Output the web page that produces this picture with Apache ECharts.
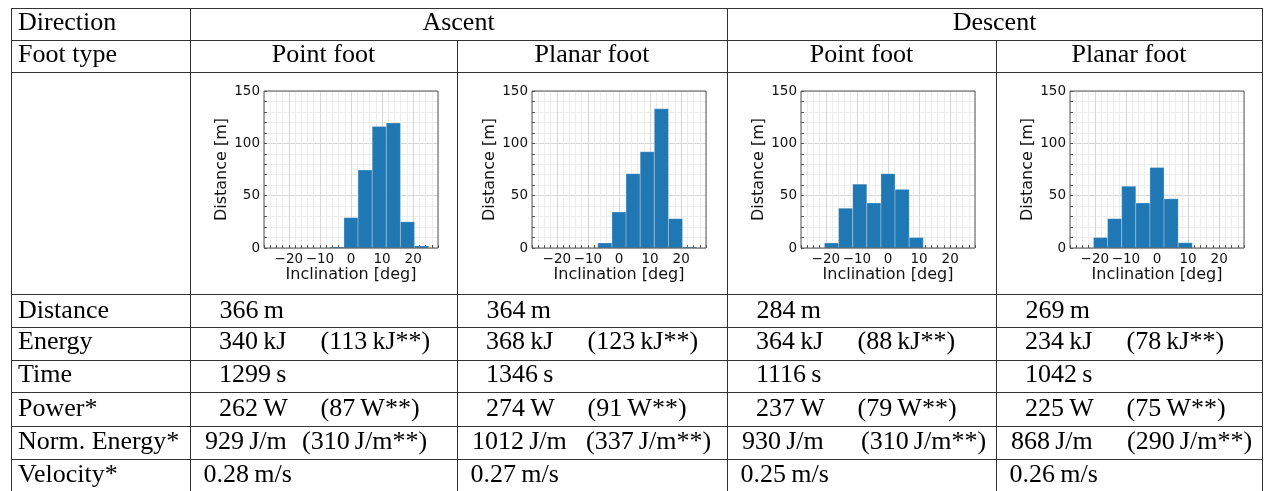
<!DOCTYPE html>
<html>
<head>
<meta charset="utf-8">
<script src="https://cdn.jsdelivr.net/npm/echarts@6/dist/echarts.min.js"></script>
<style>
  html, body { margin: 0; background: #fff; }
  #chart { width: 1264px; height: 491px; }
</style>
</head>
<body>
<div id="chart"></div>
<script>
// histogram bins, inclination [deg]
const binEdges = [-25, -20.45, -15.91, -11.36, -6.82, -2.27, 2.27, 6.82, 11.36, 15.91, 20.45, 25]
// distance walked per bin [m]
const ascentPoint = [0, 0, 0, 0, 1, 29, 74.5, 116, 119.5, 25, 2]
const ascentPlanar = [0, 0, 0, 0, 4.8, 34.4, 71, 92, 133, 28, 1]
const descentPoint = [0, 4.8, 38, 61, 43, 71, 56, 10, 0, 0, 0]
const descentPlanar = [0, 10, 28, 59, 43, 77, 47, 5, 0, 0, 0]
const xTicks = [-20, -10, 0, 10, 20]
const yTicks = [0, 50, 100, 150]

// table
const directions = ['Ascent', 'Descent']
const footTypes = ['Point foot', 'Planar foot', 'Point foot', 'Planar foot']
const rowNames = ['Distance', 'Energy', 'Time', 'Power*', 'Norm. Energy*', 'Velocity*']
const distance = [366, 364, 284, 269]
const energy = [340, 368, 364, 234]
const energyStar = [113, 123, 88, 78]
const time = [1299, 1346, 1116, 1042]
const power = [262, 274, 237, 225]
const powerStar = [87, 91, 79, 75]
const normEnergy = [929, 1012, 930, 868]
const normEnergyStar = [310, 337, 310, 290]
const velocity = [0.28, 0.27, 0.25, 0.26]

const hists = [ascentPoint, ascentPlanar, descentPoint, descentPlanar]

// layout
const colX = [11, 190, 457, 727, 996, 1262]
const rowY = [8, 40, 72, 294, 327, 360, 392, 426, 459, 491]
const baseY = [31.5, 63.5, 0, 319.5, 350.5, 384, 417.5, 450.5, 483.5]
const gridLeft = [264, 532, 801, 1070]
const lineColor = '#333'
const TS = 26 // table font size
const sp = '\u2009'

const elements = []
function hline (y, x1, x2) {
  elements.push({ type: 'line', silent: true, shape: { x1: x1, y1: y + 0.5, x2: x2 + 1, y2: y + 0.5 }, style: { stroke: lineColor, lineWidth: 1 } })
}
function vline (x, y1, y2) {
  elements.push({ type: 'line', silent: true, shape: { x1: x + 0.5, y1: y1, x2: x + 0.5, y2: y2 }, style: { stroke: lineColor, lineWidth: 1 } })
}
function txt (s, x, base, align) {
  elements.push({
    type: 'text', silent: true, x: x, y: base - 8.8,
    style: { text: s, fontSize: TS, fontFamily: 'Liberation Serif', fill: '#000', align: align || 'left', verticalAlign: 'middle' }
  })
}

// grid lines of the table
rowY.slice(0, 9).forEach(y => hline(y, colX[0], colX[5]))
vline(colX[0], rowY[0], rowY[9])
vline(colX[1], rowY[0], rowY[9])
vline(colX[3], rowY[0], rowY[9])
vline(colX[5], rowY[0], rowY[9])
vline(colX[2], rowY[1], rowY[9])
vline(colX[4], rowY[1], rowY[9])

// header
txt('Direction', 18, baseY[0])
txt(directions[0], (colX[1] + colX[3]) / 2, baseY[0], 'center')
txt(directions[1], (colX[3] + colX[5]) / 2, baseY[0], 'center')
txt('Foot type', 18, baseY[1])
footTypes.forEach((f, i) => txt(f, (colX[i + 1] + colX[i + 2]) / 2, baseY[1], 'center'))

// body
rowNames.forEach((n, r) => txt(n, 18, baseY[r + 3]))
const normOff = [112, 129, 134, 131]
for (let i = 0; i < 4; i++) {
  const x0 = colX[i + 1]
  txt(distance[i] + sp + 'm', x0 + 29.5, baseY[3])
  txt(energy[i] + sp + 'kJ', x0 + 29, baseY[4])
  txt('(' + energyStar[i] + sp + 'kJ**)', x0 + 130.5, baseY[4])
  txt(time[i] + sp + 's', x0 + 29, baseY[5])
  txt(power[i] + sp + 'W', x0 + 29, baseY[6])
  txt('(' + powerStar[i] + sp + 'W**)', x0 + 130.5, baseY[6])
  txt(normEnergy[i] + sp + 'J/m', x0 + 15, baseY[7])
  txt('(' + normEnergyStar[i] + sp + 'J/m**)', x0 + normOff[i], baseY[7])
  txt(velocity[i].toFixed(2) + sp + 'm/s', x0 + 13.5, baseY[8])
}

const minor = '#ededed'
const major = '#d6d6d6'
const tickFont = { fontFamily: 'DejaVu Sans', fontSize: 13.5, color: '#111' }
const nameFont = { fontFamily: 'DejaVu Sans', fontSize: 16, color: '#111' }

const grids = [], xAxes = [], yAxes = [], series = []
hists.forEach((vals, i) => {
  grids.push({ left: gridLeft[i], top: 91, width: 174, height: 157, show: true, z: 3,
    borderColor: '#555', borderWidth: 1, backgroundColor: 'transparent' })
  xAxes.push({
    gridIndex: i, type: 'value', min: -28, max: 28, interval: 2,
    axisLine: { show: false, onZero: false },
    axisTick: { show: true, inside: true, length: 3, lineStyle: { color: '#555' } },
    axisLabel: { ...tickFont, margin: 4,
      formatter: v => xTicks.includes(v) ? String(v).replace('-', '\u2212') : '' },
    splitLine: { show: true, lineStyle: { color: [minor, minor, minor, minor, major], width: 1 } },
    name: 'Inclination [deg]', nameLocation: 'middle', nameGap: 19, nameTextStyle: nameFont
  })
  yAxes.push({
    gridIndex: i, type: 'value', min: 0, max: 150, interval: 10,
    axisLine: { show: false, onZero: false },
    axisTick: { show: true, inside: true, length: 3, lineStyle: { color: '#555' } },
    axisLabel: { ...tickFont, margin: 4, formatter: v => yTicks.includes(v) ? String(v) : '' },
    splitLine: { show: true, lineStyle: { color: [major, minor, minor, minor, minor], width: 1 } },
    name: 'Distance [m]', nameLocation: 'middle', nameGap: 34, nameTextStyle: nameFont
  })
  series.push({
    type: 'custom', xAxisIndex: i, yAxisIndex: i,
    encode: { x: [0, 1], y: 2 },
    data: vals.map((v, k) => [binEdges[k], binEdges[k + 1], v]),
    renderItem: function (params, api) {
      if (!api.value(2)) return
      const p0 = api.coord([api.value(0), api.value(2)])
      const p1 = api.coord([api.value(1), 0])
      return {
        type: 'rect',
        shape: { x: p0[0], y: p0[1], width: p1[0] - p0[0], height: p1[1] - p0[1] },
        style: { fill: '#1f77b4', stroke: 'rgba(255,255,255,0.35)', lineWidth: 0.8 }
      }
    }
  })
})

const chart = echarts.init(document.getElementById('chart'))
chart.setOption({
  animation: false,
  backgroundColor: '#fff',
  grid: grids,
  xAxis: xAxes,
  yAxis: yAxes,
  series: series,
  graphic: { elements: elements }
})
</script>
</body>
</html>
